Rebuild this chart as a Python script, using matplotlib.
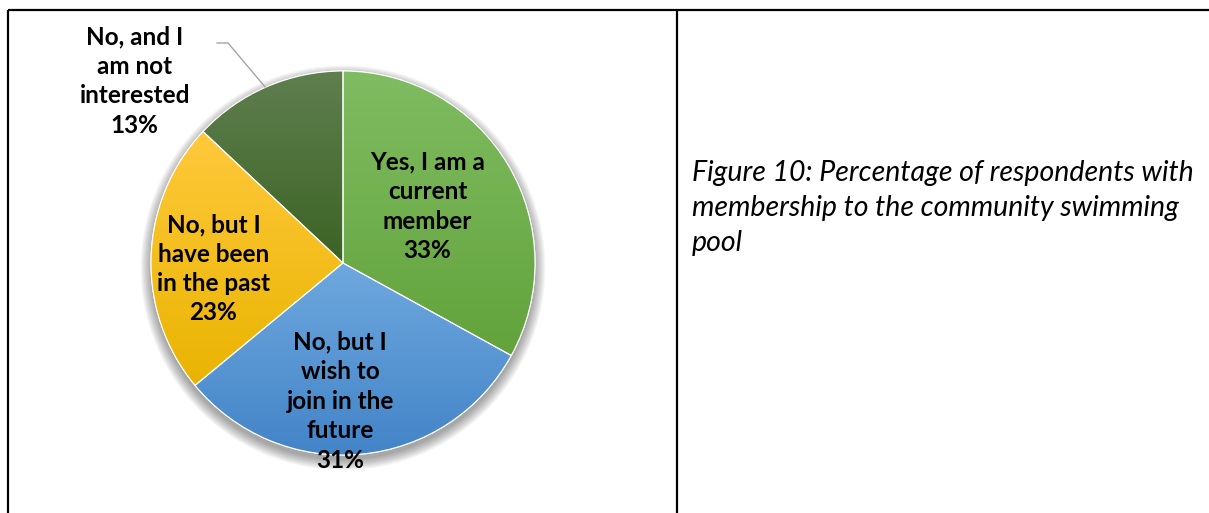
import numpy as np
import matplotlib
matplotlib.use("Agg")
import matplotlib.pyplot as plt
from matplotlib.patches import Circle, Wedge
from matplotlib.colors import LinearSegmentedColormap

# ---- data ----
categories = ["Yes, I am a\ncurrent\nmember", "No, but I\nwish to\njoin in the\nfuture",
              "No, but I\nhave been\nin the past", "No, and I\nam not\ninterested"]
values = [33, 31, 23, 13]
top_colors = ["#80BC62", "#6EA8DE", "#FFC93C", "#5F7F4F"]
bottom_colors = ["#62A33B", "#4384C8", "#E9B400", "#3C6325"]
caption_lines = ["Figure 10: Percentage of respondents with",
                 "membership to the community swimming",
                 "pool"]

W, H = 1209, 513
fig = plt.figure(figsize=(W / 100, H / 100), dpi=100)

# frame axes in pixel coords
fax = fig.add_axes([0, 0, 1, 1])
fax.set_xlim(0, W)
fax.set_ylim(H, 0)
fax.axis("off")
lw = 1.6
fax.plot([8, W], [10, 10], color="black", lw=lw, solid_capstyle="butt")
fax.plot([8, 8], [10, H], color="black", lw=lw, solid_capstyle="butt")
fax.plot([677, 677], [10, H], color="black", lw=lw, solid_capstyle="butt")

for i, line in enumerate(caption_lines):
    fax.text(692, 173 + 35 * i, line, fontsize=20.5, style="italic", family="Lato",
             va="center", ha="left", color="black")

# pie axes
cx, cy, r = 343, 263, 192
half = 210
pax = fig.add_axes([(cx - half) / W, (H - cy - half) / H, 2 * half / W, 2 * half / H])
lim = half / r
pax.set_aspect("equal")
pax.axis("off")

# soft shadow
for i in range(10):
    pax.add_patch(Circle((0.0, -0.025), 1.0 + 0.006 * i, color="black", alpha=0.04, lw=0, zorder=0))

wedges, _ = pax.pie(values, startangle=90, counterclock=False, radius=1.0,
                    colors=top_colors, wedgeprops=dict(linewidth=0.8, edgecolor="white"))

for w, ct, cb in zip(wedges, top_colors, bottom_colors):
    w.set_zorder(2)
    ext = w.get_patch_transform().transform_path(w.get_path()).get_extents()
    cmap = LinearSegmentedColormap.from_list("g", [cb, ct])
    grad = np.linspace(0, 1, 256).reshape(-1, 1)
    im = pax.imshow(grad, cmap=cmap, origin="lower", aspect="auto",
                    extent=[ext.x0, ext.x1, ext.y0, ext.y1], zorder=3, interpolation="bilinear")
    im.set_clip_path(w)

for w in wedges:
    pax.add_patch(Wedge(w.center, w.r, w.theta1, w.theta2, facecolor="none",
                        edgecolor="white", lw=0.8, zorder=4))

pax.set_xlim(-lim, lim)
pax.set_ylim(-lim, lim)

label_pos = [(0.44, 0.295), (-0.015, -0.72), (-0.675, -0.03), (-1.085, 0.948)]
for cat, v, (lx, ly) in zip(categories, values, label_pos):
    pax.text(lx, ly, f"{cat}\n{v}%", ha="center", va="center", fontsize=17.5,
             fontweight="bold", family="Lato", linespacing=1.34, zorder=6, color="black",
             clip_on=False)

# leader line for outside label
pax.plot([-0.656, -0.599, -0.406], [1.146, 1.146, 0.917], color="#A6A6A6", lw=1.0,
         zorder=5, clip_on=False)

fig.savefig("out.png", dpi=100)
